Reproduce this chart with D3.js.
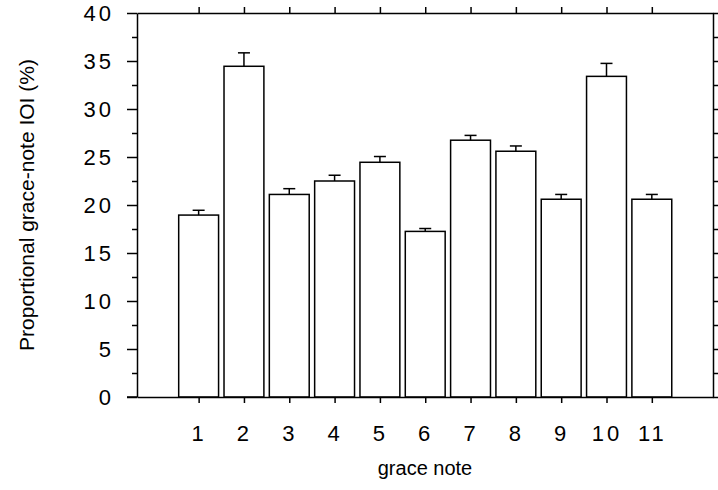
<!DOCTYPE html>
<html>
<head>
<meta charset="utf-8">
<script src="https://cdn.jsdelivr.net/npm/d3@7"></script>
<style>
  html, body { margin: 0; padding: 0; background: #fff; }
  svg { display: block; }
  text { font-family: "Liberation Sans", Arial, sans-serif; fill: #000; }
</style>
</head>
<body>
<svg id="chart" width="718" height="490"></svg>
<script>
const notes = [1, 2, 3, 4, 5, 6, 7, 8, 9, 10, 11];
const means = [18.95, 34.45, 21.1, 22.5, 24.45, 17.25, 26.75, 25.6, 20.6, 33.4, 20.6];
const errTop = [19.45, 35.85, 21.7, 23.1, 25.05, 17.55, 27.25, 26.15, 21.1, 34.75, 21.1];
const yTicks = [0, 5, 10, 15, 20, 25, 30, 35, 40];
const yMinor = [2.5, 7.5, 12.5, 17.5, 22.5, 27.5, 32.5, 37.5];
const xTitle = "grace note";
const yTitle = "Proportional grace-note IOI (%)";

const svg = d3.select("#chart");
const L = 137, R = 713, T = 13, B = 397;
const x = d3.scaleLinear().domain([-0.36, 12.35]).range([L, R]);
const y = d3.scaleLinear().domain([0, 40]).range([B, T]);
const bw = 0.88;

// bars
svg.append("g").selectAll("rect").data(notes).join("rect")
  .attr("x", (d) => x(d - bw / 2))
  .attr("width", x(bw) - x(0))
  .attr("y", (d, i) => y(means[i]))
  .attr("height", (d, i) => y(0) - y(means[i]))
  .attr("fill", "#fff").attr("stroke", "#000").attr("stroke-width", 1.5);

// error bars
const eg = svg.append("g").attr("stroke", "#000").attr("stroke-width", 1.5);
eg.selectAll("line.v").data(notes).join("line").attr("class", "v")
  .attr("x1", (d) => x(d)).attr("x2", (d) => x(d))
  .attr("y1", (d, i) => y(means[i])).attr("y2", (d, i) => y(errTop[i]));
eg.selectAll("line.c").data(notes).join("line").attr("class", "c")
  .attr("x1", (d) => x(d) - 6).attr("x2", (d) => x(d) + 6)
  .attr("y1", (d, i) => y(errTop[i])).attr("y2", (d, i) => y(errTop[i]));

// frame axes
function axis(gen, tf) {
  const g = svg.append("g").attr("transform", tf).call(gen);
  g.selectAll("path, line").attr("stroke", "#000").attr("stroke-width", 1.5);
  return g;
}
const fmt = () => "";
axis(d3.axisLeft(y).tickValues(yMinor).tickSize(5).tickFormat(fmt), `translate(${L},0)`).select("path").remove();
const yl = axis(d3.axisLeft(y).tickValues(yTicks).tickSize(10).tickSizeOuter(0).tickPadding(13), `translate(${L},0)`);
yl.selectAll("text").style("font-size", "22px").style("letter-spacing", "3px").attr("dy", "0.36em");

axis(d3.axisRight(y).tickValues(yTicks.concat(yMinor)).tickSize(5).tickSizeOuter(0).tickFormat(fmt), `translate(${R},0)`);
axis(d3.axisTop(x).tickValues(notes).tickSize(6).tickSizeOuter(0).tickFormat(fmt), `translate(0,${T})`);
const xl = axis(d3.axisBottom(x).tickValues(notes).tickSize(6).tickSizeOuter(0).tickPadding(22), `translate(0,${B})`);
xl.selectAll("text").style("font-size", "22px").style("letter-spacing", "3px");
// extend bottom line left to meet zero tick
svg.append("line").attr("x1", L - 10).attr("x2", L).attr("y1", B).attr("y2", B)
  .attr("stroke", "#000").attr("stroke-width", 1.5);

// titles
svg.append("text").attr("x", (L + R) / 2 - 0).attr("y", 475)
  .attr("text-anchor", "middle").style("font-size", "20px").text(xTitle);
svg.append("text").attr("transform", `translate(34,${(T + B) / 2}) rotate(-90)`)
  .attr("text-anchor", "middle").style("font-size", "21px").text(yTitle);
</script>
</body>
</html>
